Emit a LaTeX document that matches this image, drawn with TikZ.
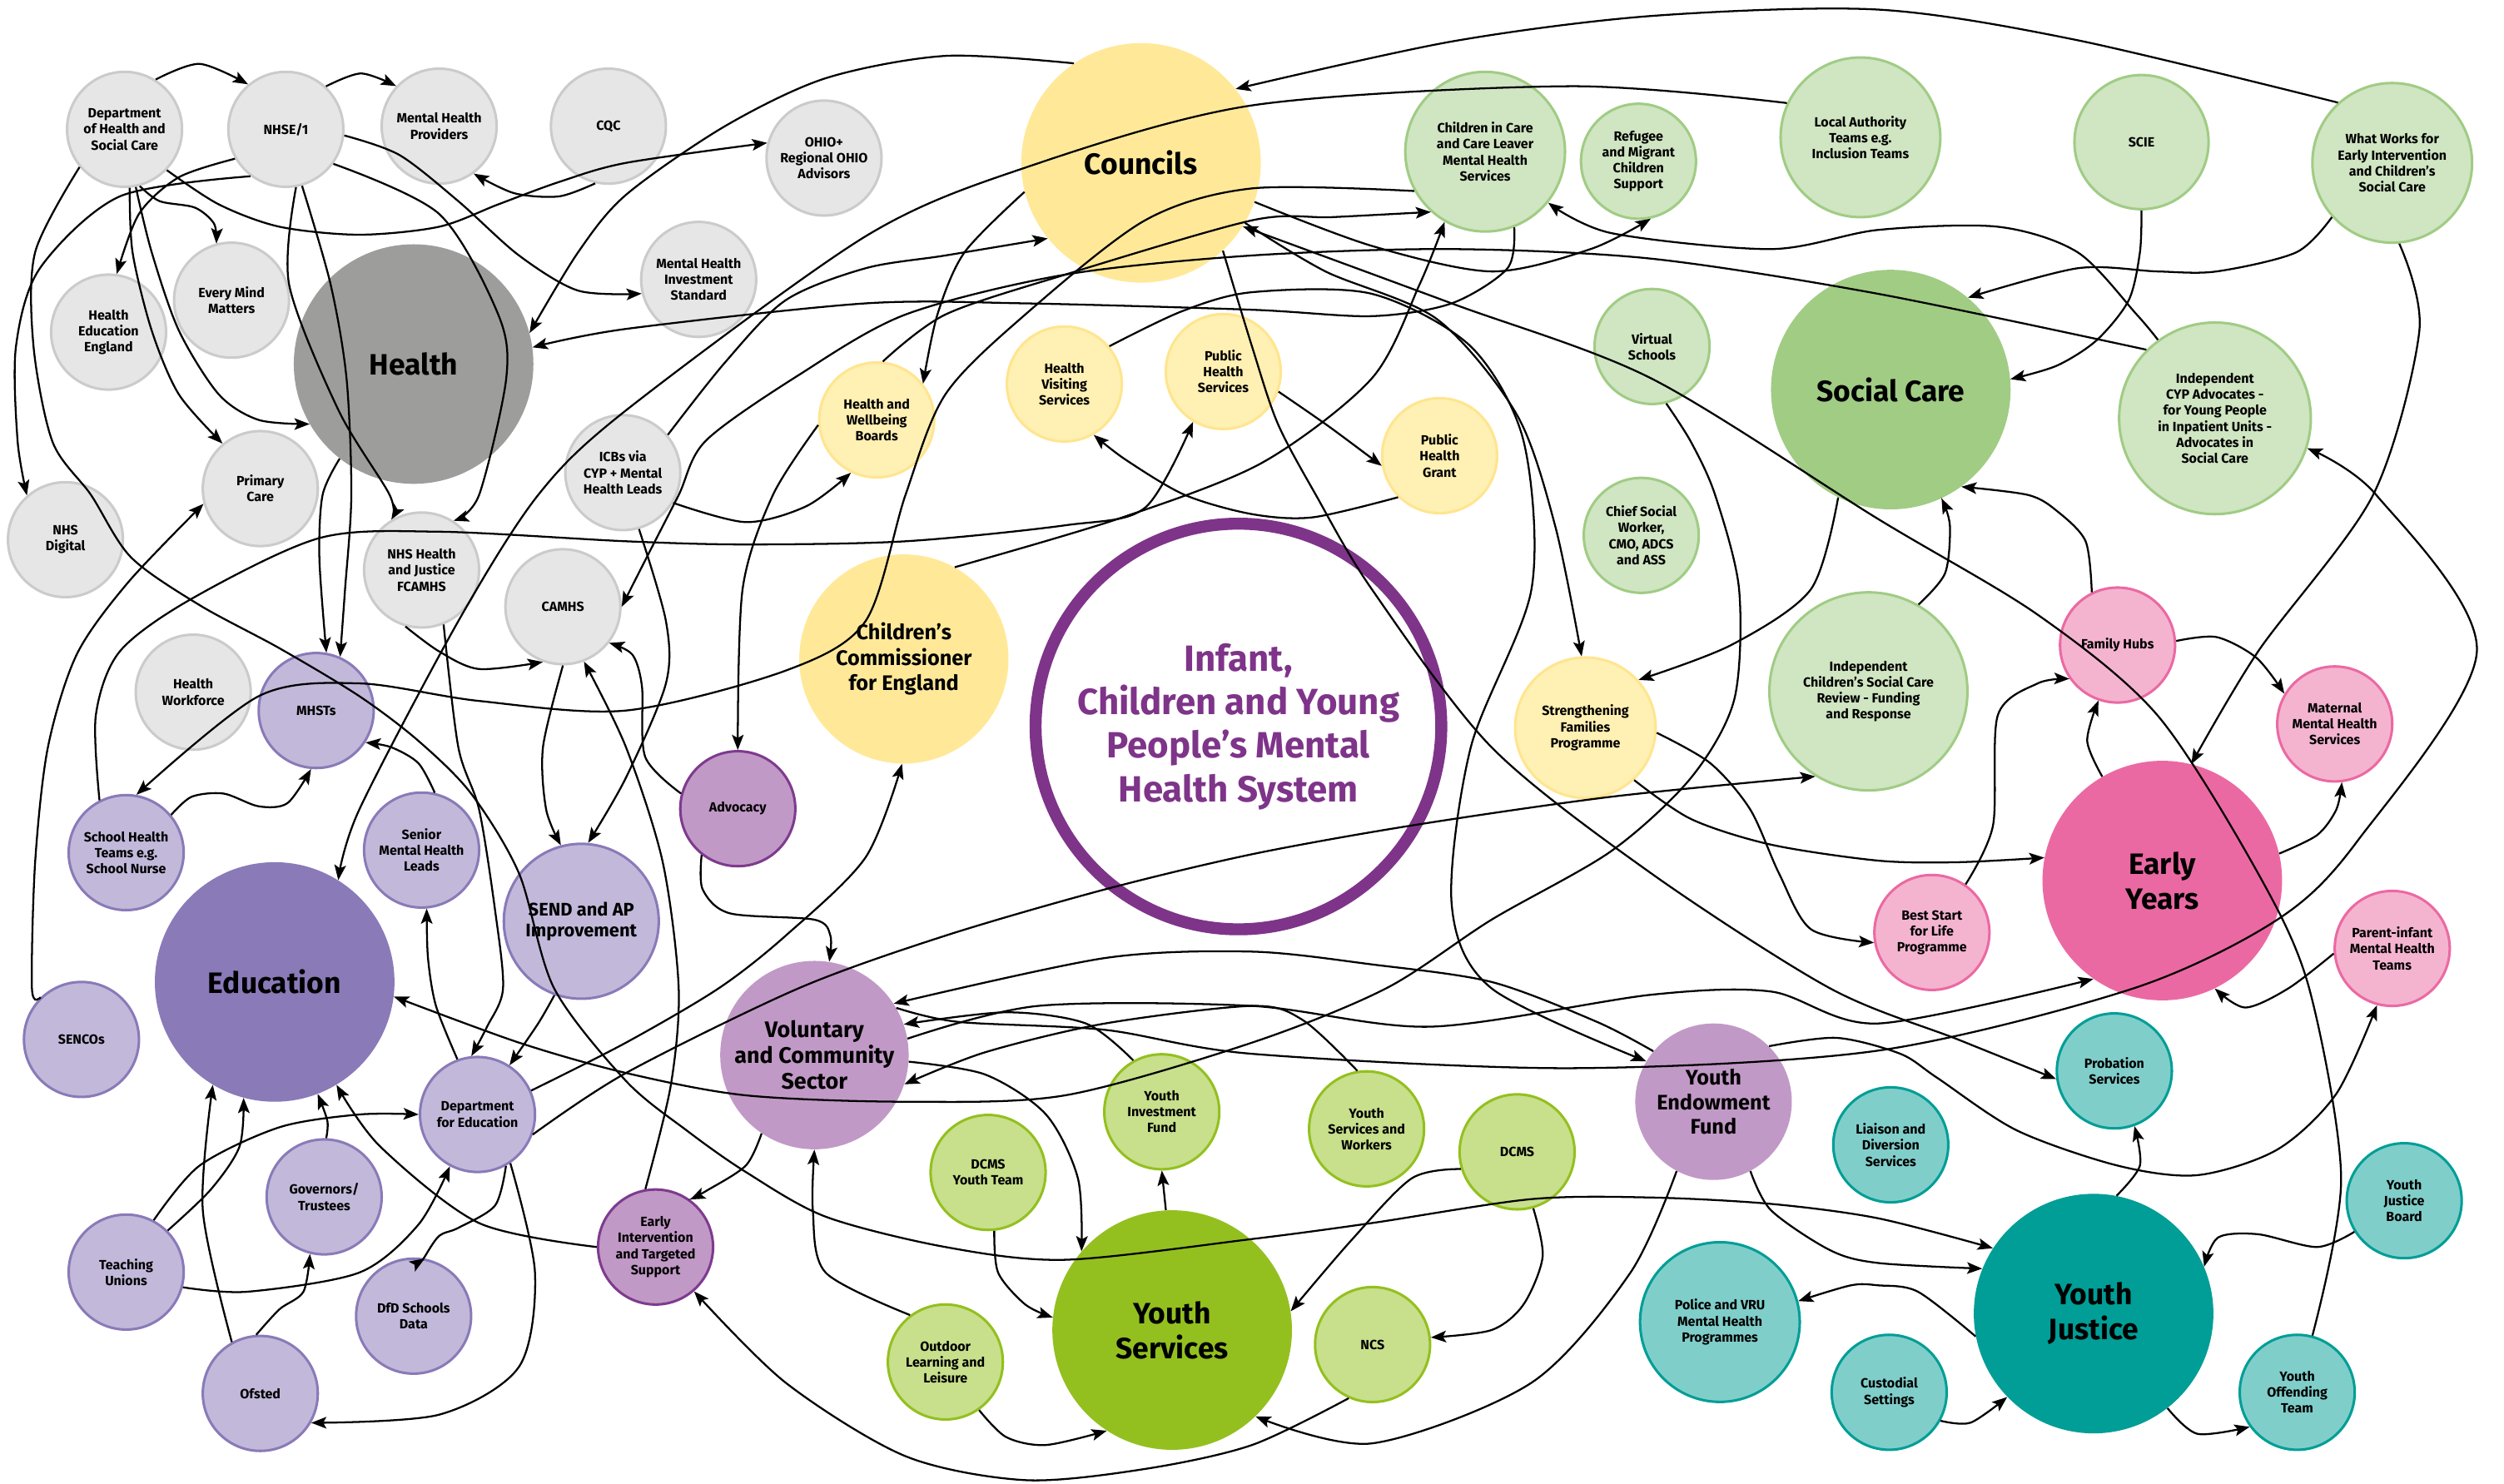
\documentclass[tikz,border=0pt]{standalone}
\usepackage{fontspec}
\setmainfont{Fira Sans}
\usetikzlibrary{arrows.meta}

% group colours
\definecolor{hfill}{HTML}{E6E6E6}
\definecolor{hline}{HTML}{CBCBCB}
\definecolor{hbig}{HTML}{9D9D9C}
\definecolor{efill}{HTML}{C2B9DA}
\definecolor{eline}{HTML}{8A7AB8}
\definecolor{cfill}{HTML}{FFF0B3}
\definecolor{cline}{HTML}{FFE58F}
\definecolor{cbig}{HTML}{FFE999}
\definecolor{sfill}{HTML}{D0E5C2}
\definecolor{sline}{HTML}{A0CC84}
\definecolor{pfill}{HTML}{F4B4D0}
\definecolor{pline}{HTML}{EB69A3}
\definecolor{tfill}{HTML}{80CECA}
\definecolor{tline}{HTML}{009E96}
\definecolor{vfill}{HTML}{C199C6}
\definecolor{vline}{HTML}{7E3B8E}
\definecolor{yfill}{HTML}{C8DF8C}
\definecolor{yline}{HTML}{93C01F}
\definecolor{sys}{HTML}{7E3489}

\begin{document}
\begin{tikzpicture}[x=0.04cm, y=-0.04cm,
    bub/.style={circle, draw, line width=1.8pt, minimum size=2.88cm, inner sep=0pt, align=center,
      font=\fontsize{9.5}{11.4}\selectfont\bfseries},
    big/.style={circle, minimum size=6cm, inner sep=0pt, align=center,
      font=\fontsize{21}{25}\selectfont\bfseries},
    midtxt/.style={font=\fontsize{15}{18}\selectfont\bfseries},
    hnode/.style={bub, fill=hfill, draw=hline},
    enode/.style={bub, fill=efill, draw=eline},
    cnode/.style={bub, fill=cfill, draw=cline},
    snode/.style={bub, fill=sfill, draw=sline},
    pnode/.style={bub, fill=pfill, draw=pline},
    tnode/.style={bub, fill=tfill, draw=tline},
    vnode/.style={bub, fill=vfill, draw=vline},
    ynode/.style={bub, fill=yfill, draw=yline},
    link/.style={line width=1.35pt, -{Stealth[length=3.8mm, width=2.9mm, inset=0.8mm]}},
  ]
  \useasboundingbox (0,0) rectangle (1568,929);

  % Health
  \node[hnode] (dhsc) at (78,81) {Department\\of Health and\\Social Care};
  \node[hnode] (nhse) at (179,81) {NHSE/1};
  \node[hnode] (mhp) at (275,79) {Mental Health\\Providers};
  \node[hnode] (cqc) at (381,79) {CQC};
  \node[hnode] (ohio) at (516,99) {OHIO+\\Regional OHIO\\Advisors};
  \node[hnode] (mhis) at (437.5,175) {Mental Health\\Investment\\Standard};
  \node[hnode] (hee) at (68,208) {Health\\Education\\England};
  \node[hnode] (emm) at (145,188) {Every Mind\\Matters};
  \node[big, fill=hbig] (health) at (259,228) {Health};
  \node[hnode] (nhsdig) at (41,338) {NHS\\Digital};
  \node[hnode] (primary) at (163,306) {Primary\\Care};
  \node[hnode] (icbs) at (390,296) {ICBs via\\CYP + Mental\\Health Leads};
  \node[hnode] (fcamhs) at (264,357) {NHS Health\\and Justice\\FCAMHS};
  \node[hnode] (camhs) at (352.5,380) {CAMHS};
  \node[hnode] (hwork) at (121,433.5) {Health\\Workforce};

  % Education
  \node[enode] (mhsts) at (198,445) {MHSTs};
  \node[enode] (sht) at (79,534) {School Health\\Teams e.g.\\School Nurse};
  \node[enode] (smhl) at (264,532.4) {Senior\\Mental Health\\Leads};
  \node[enode, minimum size=3.88cm, font=\fontsize{13}{14.6}\selectfont\bfseries] (send) at (364,577) {SEND and AP\\Improvement};
  \node[big, fill=eline] (edu) at (172,615) {Education};
  \node[enode] (sencos) at (51,651) {SENCOs};
  \node[enode] (dfe) at (299,698) {Department\\for Education};
  \node[enode] (gov) at (203,749.6) {Governors/\\Trustees};
  \node[enode] (unions) at (79,796.7) {Teaching\\Unions};
  \node[enode] (dfd) at (259,824.3) {DfD Schools\\Data};
  \node[enode] (ofsted) at (163,872.7) {Ofsted};

  % Councils
  \node[big, fill=cbig] (councils) at (714.5,102) {Councils};
  \node[cnode] (hwb) at (549,263) {Health and\\Wellbeing\\Boards};
  \node[cnode] (hvs) at (666.5,240.5) {Health\\Visiting\\Services};
  \node[cnode] (phs) at (766,232.7) {Public\\Health\\Services};
  \node[cnode] (phg) at (901.5,285.4) {Public\\Health\\Grant};
  \node[big, fill=cbig, minimum size=5.24cm, midtxt] (cce) at (566,412.7) {Children’s\\Commissioner\\for England};
  \node[cnode, minimum size=3.52cm] (sfp) at (992.75,455.8) {Strengthening\\Families\\Programme};

  % Social care
  \node[snode, minimum size=4cm] (cic) at (930,95) {Children in Care\\and Care Leaver\\Mental Health\\Services};
  \node[snode] (refugee) at (1026,101) {Refugee\\and Migrant\\Children\\Support};
  \node[snode, minimum size=4cm] (lat) at (1165,86) {Local Authority\\Teams e.g.\\Inclusion Teams};
  \node[snode, minimum size=3.36cm] (scie) at (1341,89) {SCIE};
  \node[snode, minimum size=4cm] (wworks) at (1498,102) {What Works for\\Early Intervention\\and Children’s\\Social Care};
  \node[big, fill=sline] (social) at (1184,244) {Social Care};
  \node[snode] (virtual) at (1034.5,217) {Virtual\\Schools};
  \node[snode, minimum size=4.8cm] (indcyp) at (1387,262) {Independent\\CYP Advocates -\\for Young People\\in Inpatient Units -\\Advocates in\\Social Care};
  \node[snode] (csw) at (1027.75,335.3) {Chief Social\\Worker,\\CMO, ADCS\\and ASS};
  \node[snode, minimum size=4.96cm] (icscr) at (1170,433) {Independent\\Children’s Social Care\\Review - Funding\\and Response};

  % Early years
  \node[pnode] (fhubs) at (1326,404) {Family Hubs};
  \node[pnode] (maternal) at (1462,453.4) {Maternal\\Mental Health\\Services};
  \node[big, fill=pline] (early) at (1354,551.5) {Early\\Years};
  \node[pnode] (bestart) at (1209.75,584) {Best Start\\for Life\\Programme};
  \node[pnode] (pimh) at (1498,594) {Parent-infant\\Mental Health\\Teams};

  % Youth justice
  \node[tnode] (probation) at (1324,670.7) {Probation\\Services};
  \node[tnode] (liaison) at (1184,717) {Liaison and\\Diversion\\Services};
  \node[tnode] (yjb) at (1505.5,752) {Youth\\Justice\\Board};
  \node[big, fill=tline] (justice) at (1311,822.7) {Youth\\Justice};
  \node[tnode, minimum size=4cm] (police) at (1077,828) {Police and VRU\\Mental Health\\Programmes};
  \node[tnode] (custodial) at (1183,872) {Custodial\\Settings};
  \node[tnode] (yot) at (1438.5,872) {Youth\\Offending\\Team};

  % Voluntary sector
  \node[vnode] (advocacy) at (462,506.5) {Advocacy};
  \node[big, fill=vfill, minimum size=4.72cm, font=\fontsize{16}{18.5}\selectfont\bfseries] (vcs) at (510,660.8) {Voluntary\\and Community\\Sector};
  \node[vnode] (eits) at (410.5,781) {Early\\Intervention\\and Targeted\\Support};
  \node[big, fill=vfill, minimum size=3.92cm, font=\fontsize{15}{17.5}\selectfont\bfseries] (yef) at (1073,690) {Youth\\Endowment\\Fund};

  % Youth services
  \node[ynode] (yif) at (727.5,696.3) {Youth\\Investment\\Fund};
  \node[ynode] (ysw) at (855.75,707) {Youth\\Services and\\Workers};
  \node[ynode] (dcmsyt) at (618.75,734.3) {DCMS\\Youth Team};
  \node[ynode] (dcms) at (950,721.4) {DCMS};
  \node[big, fill=yline] (youth) at (734,833) {Youth\\Services};
  \node[ynode] (outdoor) at (592,853) {Outdoor\\Learning and\\Leisure};
  \node[ynode] (ncs) at (859.5,842.1) {NCS};

  % Centre
  \node[circle, draw=sys, line width=0.3cm, minimum size=10.16cm, align=center, text=sys,
    font=\fontsize{26}{31}\selectfont\bfseries] (system) at (775.5,455)
    {Infant,\\Children and Young\\People's Mental\\Health System};

  % Links: health
  \draw[link] plot[smooth] coordinates {(dhsc.58) (125,40) (nhse.130)};
  \draw[link] plot[smooth] coordinates {(nhse.47) (226,46) (mhp.137)};
  \draw[link] plot[smooth] coordinates {(cqc.257) (350,123) (322,121) (mhp.306)};
  \draw[link] plot[smooth] coordinates {(nhse.210) (112,111) (87,134) (hee.82)};
  \draw[link] plot[smooth] coordinates {(dhsc.285) (100,126) (122,130) (134,140) (emm.105)};
  \draw[link] plot[smooth] coordinates {(nhse.233) (75,123) (25,168) (10,217) (11,276) (nhsdig.131)};
  \draw[link] plot[smooth] coordinates {(dhsc.275) (83,158) (95,207) (112,247) (primary.130)};
  \draw[link] plot[smooth] coordinates {(dhsc.281) (95,158) (112,207) (137,247) (162,263) (health.210)};
  \draw[link] plot[smooth] coordinates {(dhsc.316) (137,128) (175,142) (225,147) (275,142) (312,128) (350,114) (392,102) (ohio.165)};
  \draw[link] plot[smooth] coordinates {(nhse.354) (250,97) (287,126) (325,160) (362,182) (mhis.194)};
  \draw[link] plot[smooth] coordinates {(nhse.324) (275,134) (312,197) (317,237) (300,310) (fcamhs.57)};
  \draw[link] plot[smooth] coordinates {(nhse.286) (207,178) (217,237) (220,310) (216,370) (mhsts.66)};
  \draw[link] plot[smooth] coordinates {(nhse.280) (181,178) (212,257) (244,310) (fcamhs.121)};
  \draw[link] plot[smooth] coordinates {(health.232) (202,310) (200,350) (mhsts.80)};
  \draw[link] plot[smooth] coordinates {(dhsc.220) (22,158) (21,217) (33,277) (57,310) (82,349) (125,379) (175,406) (225,436) (262,464) (295,497) (325,547) (347,619) (392,677) (430,708) (467,734) (517,762) (592,781) (667,789) (784,776) (859,766) (959,751) (1034,750) (1109,754) (1176,763) (justice.147)};
  \draw[link] plot[smooth] coordinates {(icbs.40) (454,227) (492,188) (542,168) (592,160) (councils.219)};
  \draw[link] plot[smooth] coordinates {(icbs.329) (467,327) (505,317) (hwb.244)};
  \draw[link] plot[smooth] coordinates {(icbs.286) (417,389) (417,428) (392,487) (send.85)};
  \draw[link] plot[smooth] coordinates {(fcamhs.254) (275,408) (300,419) (camhs.250)};
  \draw[link] plot[smooth] coordinates {(camhs.270) (340,468) (342,507) (send.105)};
  \draw[link] plot[smooth] coordinates {(advocacy.165) (404,474) (402,430) (396,410) (camhs.322)};
  \draw[link] plot[smooth] coordinates {(eits.100) (420,680) (425,619) (415,540) (392,468) (camhs.291)};
  \draw[link] plot[smooth] coordinates {(sencos.134) (20,619) (22,540) (30,468) (48,410) (80,365) (primary.195)};

  % Links: education
  \draw[link] plot[smooth] coordinates {(smhl.77) (262,478) (245,468) (mhsts.327)};
  \draw[link] plot[smooth] coordinates {(sht.40) (120,499) (140,497) (162,505) (180,503) (mhsts.265)};
  \draw[link] plot[smooth] coordinates {(dfe.110) (273,630) (268,600) (smhl.275)};
  \draw[link] plot[smooth] coordinates {(fcamhs.292) (287,468) (300,507) (310,570) (315,619) (305,643) (dfe.96)};
  \draw[link] plot[smooth] coordinates {(send.250) (337,641) (dfe.57)};
  \draw[link] plot[smooth] coordinates {(dfe.299) (310,755) (287,769) (275,774) (266,787) (dfd.79)};
  \draw[link] plot[smooth] coordinates {(dfe.304) (335,797) (325,856) (275,886) (ofsted.330)};
  \draw[link] plot[smooth] coordinates {(unions.345) (155,809) (225,797) (262,767) (dfe.242)};
  \draw[link] plot[smooth] coordinates {(unions.62) (125,730) (175,706) (225,698) (dfe.180)};
  \draw[link] plot[smooth] coordinates {(unions.45) (132,745) (150,718) (edu.255)};
  \draw[link] plot[smooth] coordinates {(ofsted.119) (127,758) (edu.239)};
  \draw[link] plot[smooth] coordinates {(ofsted.94) (175,820) (190,809) (gov.256)};
  \draw[link] plot[smooth] coordinates {(gov.88) (205,702) (edu.291)};
  \draw[link] plot[smooth] coordinates {(eits.180) (300,766) (238,718) (edu.301)};
  \draw[link] plot[smooth] coordinates {(dfe.24) (392,653) (450,619) (492,586) (542,537) (cce.269)};
  \draw[link] plot[smooth] coordinates {(dfe.340) (392,672) (500,619) (592,586) (692,557) (784,535) (884,517) (1009,499) (icscr.238)};
  \draw[link] plot[smooth] coordinates {(virtual.284) (1059,277) (1074,310) (1089,369) (1086,438) (1059,487) (1009,533) (934,576) (868,619) (784,653) (667,686) (567,690) (467,686) (392,672) (325,653) (edu.353)};

  % Links: councils
  \draw[link] plot[smooth] coordinates {(councils.124) (592,35) (517,49) (454,79) (392,122) (362,158) (health.15)};
  \draw[link] plot[smooth] coordinates {(cic.291) (944,168) (909,190) (859,198) (784,194) (642,190) (542,190) (392,206) (health.8)};
  \draw[link] plot[smooth] coordinates {(lat.155) (984,54) (784,66) (642,105) (542,148) (392,257) (337,310) (287,389) (225,507) (edu.58)};
  \draw[link] plot[smooth] coordinates {(councils.194) (604,158) (587,197) (hwb.38)};
  \draw[link] plot[smooth] coordinates {(phg.225) (822,324) (784,322) (742,310) (705,288) (hvs.300)};
  \draw[link] plot[smooth] coordinates {(sht.117) (60,448) (75,408) (120,375) (200,337) (275,333) (392,339) (467,341) (567,339) (667,329) (717,318) (phs.239)};
  \draw[link] plot[smooth] coordinates {(phs.340) (832,267) (phg.190)};
  \draw[link] plot[smooth] coordinates {(councils.341) (859,154) (934,170) (996,156) (refugee.282)};
  \draw[link] plot[smooth] coordinates {(hwb.84) (592,197) (667,172) (784,138) (834,136) (cic.228)};
  \draw[link] plot[smooth] coordinates {(hwb.185) (484,310) (465,369) (advocacy.90)};
  \draw[link] plot[smooth] coordinates {(cic.209) (784,118) (717,138) (642,197) (592,247) (567,310) (542,389) (492,420) (392,445) (300,439) (225,428) (162,436) (sht.80)};
  \draw[link] plot[smooth] coordinates {(indcyp.126) (1338,197) (1301,158) (1251,142) (1176,144) (1109,156) (1009,146) (cic.321)};
  \draw[link] plot[smooth] coordinates {(cce.61) (700,325) (790,290) (859,237) (889,178) (cic.240)};
  \draw[link] plot[smooth] coordinates {(indcyp.135) (1176,184) (1034,162) (909,156) (784,160) (667,172) (567,197) (500,235) (442,276) (425,310) (405,349) (camhs.0)};
  \draw[link] plot[smooth] coordinates {(hvs.40) (740,195) (784,183) (859,184) (921,217) (954,276) (959,369) (921,468) (909,566) (934,619) (yef.149)};
  \draw[link] plot[smooth] coordinates {(councils.330) (830,170) (900,200) (950,260) (974,330) (sfp.93)};
  \draw[link] plot[smooth] coordinates {(councils.313) (784,217) (800,265) (824,310) (859,369) (934,468) (1034,547) (1146,619) (1226,651) (probation.188)};
  \draw[link] plot[smooth] coordinates {(wworks.132) (1300,25) (1176,6) (1034,10) (909,26) (councils.38)};
  \draw[link] plot[smooth] coordinates {(yot.75) (1466,738) (1446,619) (1414,547) (1351,448) (1276,385) (1176,325) (1034,237) (909,190) (councils.328)};

  % Links: social care and early years
  \draw[link] plot[smooth] coordinates {(wworks.222) (1438,158) (1388,170) (1351,170) (1301,168) (social.50)};
  \draw[link] plot[smooth] coordinates {(scie.270) (1340,158) (1333,188) (1313,213) (1288,229) (social.5)};
  \draw[link] plot[smooth] coordinates {(wworks.275) (1515,207) (1486,310) (1414,408) (early.76)};
  \draw[link] plot[smooth] coordinates {(social.244) (1134,369) (1084,404) (sfp.42)};
  \draw[link] plot[smooth] coordinates {(icscr.60) (1218,359) (1221,329) (social.295)};
  \draw[link] plot[smooth] coordinates {(fhubs.116) (1306,339) (1288,320) (1270,310) (social.306)};
  \draw[link] plot[smooth] coordinates {(fhubs.4) (1388,399) (1413,412) (maternal.149)};
  \draw[link] plot[smooth] coordinates {(early.120) (1307,464) (fhubs.251)};
  \draw[link] plot[smooth] coordinates {(bestart.55) (1248,517) (1251,448) (1276,428) (fhubs.215)};
  \draw[link] plot[smooth] coordinates {(early.13) (1451,523) (1463,507) (maternal.277)};
  \draw[link] plot[smooth] coordinates {(pimh.185) (1433,619) (1406,631) (early.296)};
  \draw[link] plot[smooth] coordinates {(sfp.356) (1071,478) (1096,507) (1114,547) (1134,582) (bestart.190)};
  \draw[link] plot[smooth] coordinates {(sfp.313) (1059,513) (1109,529) (1176,539) (1226,540) (early.169)};
  \draw[link] plot[smooth] coordinates {(vcs.30) (600,640) (692,645) (784,660) (984,669) (1176,658) (1336,619) (1426,576) (1476,527) (1551,408) (1488,310) (indcyp.342)};

  % Links: voluntary and youth services
  \draw[link] plot[smooth] coordinates {(advocacy.232) (440,557) (457,572) (510,576) (520,586) (vcs.81)};
  \draw[link] plot[smooth] coordinates {(vcs.236) (467,730) (442,746) (eits.54)};
  \draw[link] plot[smooth] coordinates {(outdoor.127) (517,797) (509,758) (vcs.270)};
  \draw[link] plot[smooth] coordinates {(outdoor.305) (630,900) (655,905) (youth.237)};
  \draw[link] plot[smooth] coordinates {(dcmsyt.276) (625,797) (642,817) (youth.174)};
  \draw[link] (youth.93) -- (yif.270);
  \draw[link] plot[smooth] coordinates {(vcs.356) (617,673) (655,698) (675,738) (youth.139)};
  \draw[link] plot[smooth] coordinates {(yif.119) (680,641) (630,634) (vcs.19)};
  \draw[link] plot[smooth] coordinates {(ysw.99) (816,639) (784,630) (692,641) (617,659) (vcs.342)};
  \draw[link] plot[smooth] coordinates {(yef.140) (1000,640) (934,615) (859,604) (784,596) (692,600) (vcs.33)};
  \draw[link] plot[smooth] coordinates {(dcms.197) (884,738) (846,777) (youth.9)};
  \draw[link] plot[smooth] coordinates {(dcms.286) (966,787) (954,817) (934,833) (ncs.7)};
  \draw[link] plot[smooth] coordinates {(ncs.246) (784,905) (717,920) (642,927) (567,912) (492,866) (eits.311)};
  \draw[link] plot[smooth] coordinates {(yef.242) (1021,797) (959,866) (859,904) (youth.314)};

  % Links: youth justice
  \draw[link] plot[smooth] coordinates {(yef.298) (1109,758) (1146,783) (1176,791) (justice.158)};
  \draw[link] plot[smooth] coordinates {(justice.191) (1201,809) (1176,805) (1159,805) (police.15)};
  \draw[link] plot[smooth] coordinates {(custodial.331) (1234,891) (justice.224)};
  \draw[link] plot[smooth] coordinates {(justice.308) (1376,898) (yot.216)};
  \draw[link] plot[smooth] coordinates {(yjb.212) (1451,781) (1414,773) (1389,775) (justice.23)};
  \draw[link] plot[smooth] coordinates {(justice.79) (1340,730) (probation.290)};
  \draw[link] plot[smooth] coordinates {(yef.45) (1150,650) (1190,660) (1213,675) (1263,708) (1326,730) (1376,736) (1426,720) (1463,685) (pimh.255)};
  \draw[link] plot[smooth] coordinates {(vcs.10) (650,630) (784,630) (896,643) (1034,623) (1109,621) (1176,641) (early.235)};
\end{tikzpicture}
\end{document}
